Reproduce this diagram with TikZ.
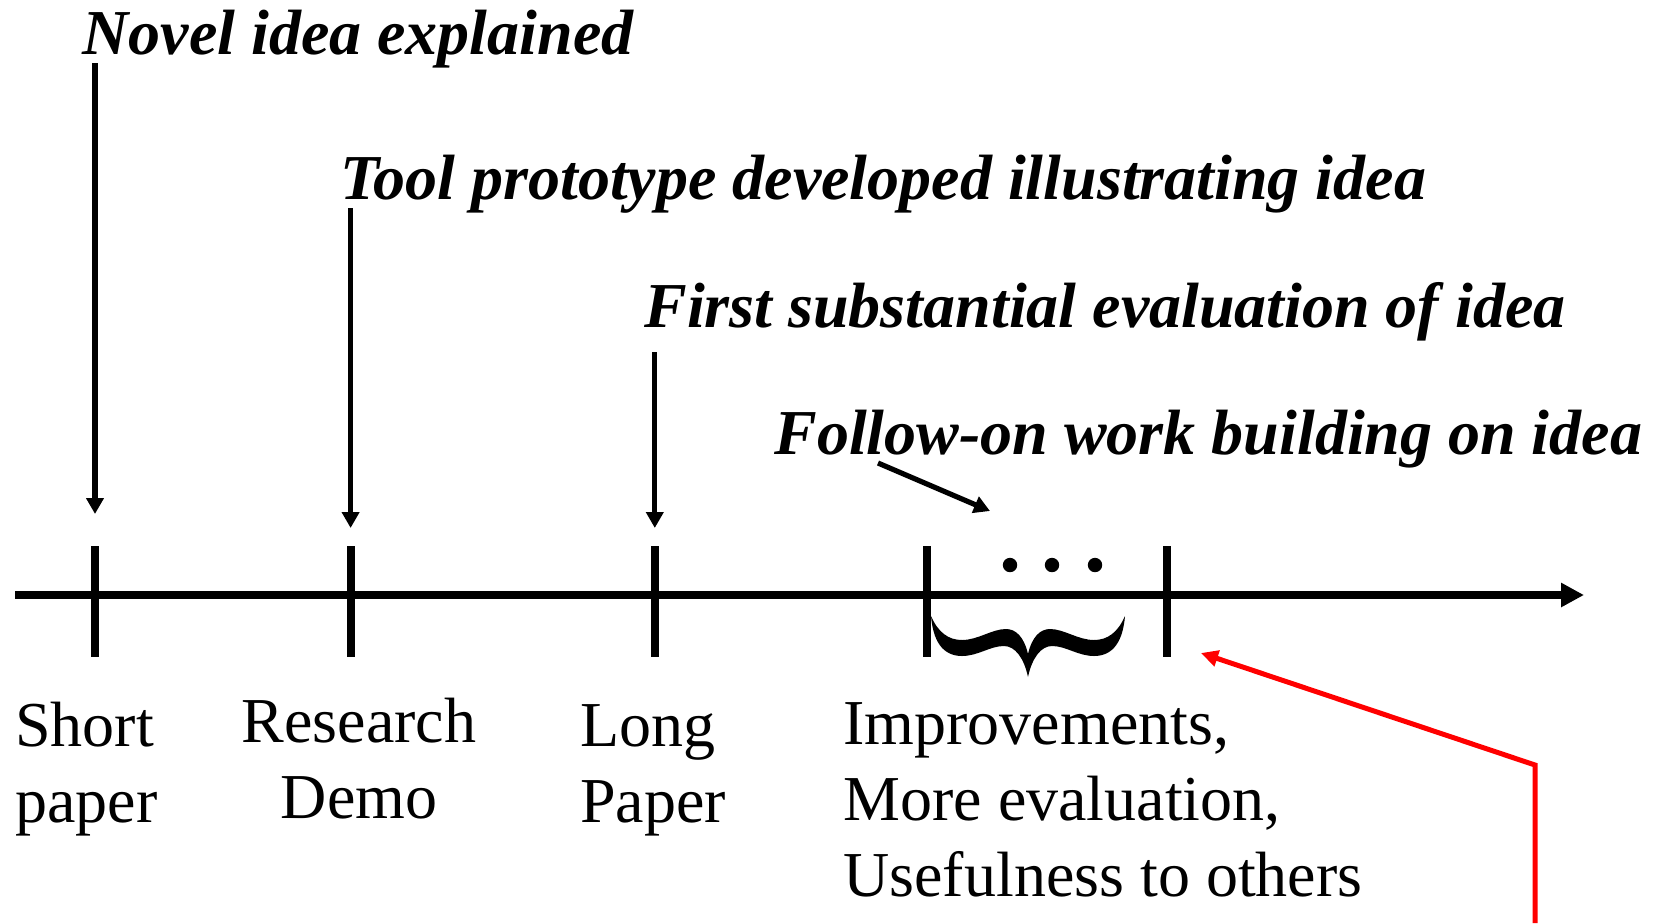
\documentclass[tikz,border=0pt]{standalone}
\usepackage{fontspec}
\setmainfont{Liberation Serif}
\usetikzlibrary{arrows.meta}

\tikzset{
  pointer/.style={line width=2.6pt,-{Triangle[length=8pt,width=8.5pt]}},
  headline/.style={anchor=base west,inner sep=0pt,font=\bfseries\itshape\fontsize{32}{38}\selectfont},
  stagelabel/.style={anchor=base west,inner sep=0pt,align=left,font=\fontsize{32}{38}\selectfont}
}

\begin{document}
\begin{tikzpicture}[x=0.5pt,y=0.5pt,yscale=-1,xscale=1]
\useasboundingbox (0,0) rectangle (1656,923);

%Straight Lines: time axis
\coordinate (axstart) at (15,595);
\coordinate (axend) at (1584,595);
\draw [line width=3.7pt,-{Triangle[length=11.5pt,width=11.5pt]}] (axstart) -- (axend);

%Straight Lines: ticks
\foreach \name/\x in {short/95,demo/350.6,long/654.8,fola/927.3,folb/1167}{
  \coordinate (\name top) at (\x,546);
  \coordinate (\name bot) at (\x,657);
  \draw [line width=3.9pt] (\name top) -- (\name bot);
}

% Text Node
\node (novel) [headline] at (82,54) {Novel idea explained};
% Text Node
\node (tool) [headline] at (340,199) {Tool prototype developed illustrating idea};
% Text Node
\node (first) [headline] at (644,327) {First substantial evaluation of idea};
% Text Node
\node (follow) [headline] at (774,454) {Follow-on work building on idea};

%Straight Lines: pointers
\coordinate (novelfoot) at (95,63);
\coordinate (novelhead) at (95,514);
\draw [pointer] (novelfoot) -- (novelhead);
\coordinate (toolfoot) at (350.6,208);
\coordinate (toolhead) at (350.6,528);
\draw [pointer] (toolfoot) -- (toolhead);
\coordinate (firstfoot) at (654.8,352);
\coordinate (firsthead) at (654.8,528);
\draw [pointer] (firstfoot) -- (firsthead);
\coordinate (followfoot) at (878,463);
\coordinate (followhead) at (990,511);
\draw [pointer] (followfoot) -- (followhead);

%Shape: dots
\foreach \x in {1010,1052,1095}{
  \fill (\x,565) circle (3.6pt);
}

%Shape: Brace
\fill (931,616) .. controls (933,640) and (942,656) .. (962,656)
  .. controls (978,656) and (990,646) .. (1004,646)
  .. controls (1015,646) and (1024,658) .. (1028,677)
  .. controls (1032,658) and (1041,646) .. (1052,646)
  .. controls (1066,646) and (1078,656) .. (1094,656)
  .. controls (1114,656) and (1123,640) .. (1125,616)
  .. controls (1118,632) and (1108,640) .. (1094,640)
  .. controls (1078,640) and (1064,629) .. (1050,629)
  .. controls (1040,629) and (1032,637) .. (1028,654)
  .. controls (1024,637) and (1016,629) .. (1006,629)
  .. controls (992,629) and (978,640) .. (962,640)
  .. controls (948,640) and (938,632) .. (931,616) -- cycle;

% Text Node (base anchor sits on the last line)
\node (shortlbl) [stagelabel] at (15,822) {Short\\paper};
% Text Node
\node (demolbl) [stagelabel,anchor=base,align=center] at (359,818) {Research\\Demo};
% Text Node
\node (longlbl) [stagelabel] at (580,822) {Long\\Paper};
% Text Node
\node (follbl) [stagelabel] at (843,896) {Improvements,\\More evaluation,\\Usefulness to others};

%Straight Lines: red pointer
\coordinate (redfoot) at (1535,923);
\coordinate (redbend) at (1535,765);
\coordinate (redhead) at (1201,653);
\draw [red,line width=2.5pt,-{Triangle[length=8.5pt,width=8pt]}] (redfoot) -- (redbend) -- (redhead);

\end{tikzpicture}
\end{document}
